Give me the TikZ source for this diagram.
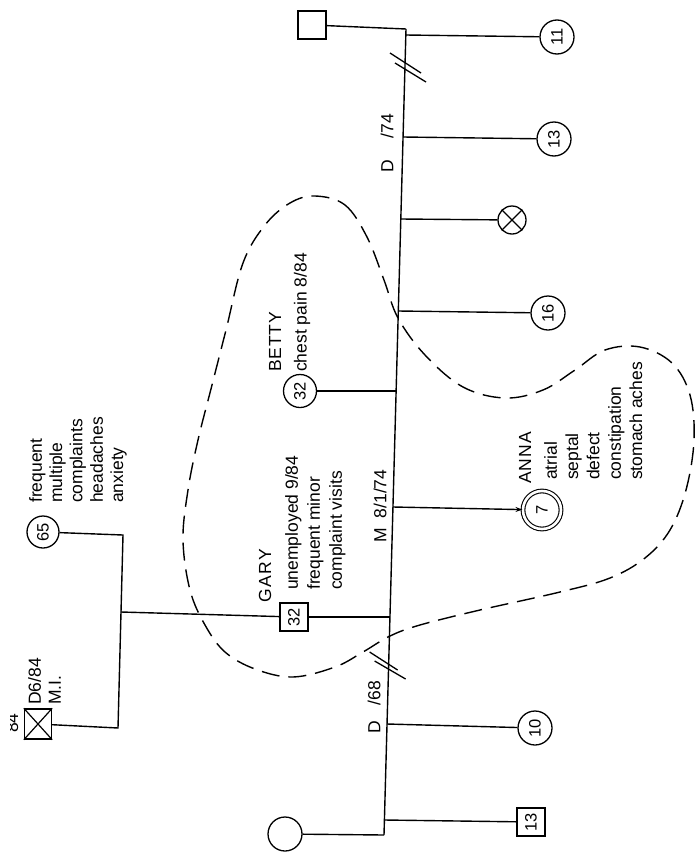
\documentclass[tikz,border=0pt]{standalone}
\usepackage{fontspec}
\setmainfont{Liberation Sans}
\usetikzlibrary{calc,arrows.meta}
\begin{document}
\begin{tikzpicture}[x=1pt,y=-1pt,
  line/.style={line width=1.4pt},
  person/.style={draw, line width=1.3pt, inner sep=0pt, rotate=90, font=\fontsize{16.5}{19}\selectfont},
  fem/.style={person, circle, minimum size=34pt},
  male/.style={person, rectangle, minimum width=28pt, minimum height=28pt},
  lbl/.style={rotate=90, inner sep=0pt, font=\fontsize{17.5}{21}\selectfont},
  slash/.style={line width=1.3pt},
  loop/.style={line width=1.4pt, dash pattern=on 18pt off 9pt}
]
\useasboundingbox[fill=white] (0,0) rectangle (696,854);

% spine coordinates
\coordinate (s0) at (406,29);
\coordinate (s11) at (405.8,35);
\coordinate (d74) at (405,67);
\coordinate (s13) at (403.1,137);
\coordinate (sx) at (400.8,219);
\coordinate (s16) at (398.3,311);
\coordinate (sb) at (396.1,391);
\coordinate (sa) at (393,507);
\coordinate (sg) at (390,617);
\coordinate (d68) at (388.6,665);
\coordinate (s10) at (387,724);
\coordinate (s13b) at (384.4,820);
\coordinate (sB) at (384,835);
% grandparents coordinates
\coordinate (p1) at (123,535);
\coordinate (pm) at (121,612);
\coordinate (p2) at (118,728);

% persons
\node[male] (F1) at (312,25) {};
\node[fem] (c11) at (557,37) {11};
\node[fem] (c13) at (554,139) {13};
\node[fem, minimum size=28pt] (xc) at (512,220) {};
\node[fem] (c16) at (548,313) {16};
\node[fem, minimum size=33pt] (betty) at (300,391) {32};
\node[fem, minimum size=38pt, line width=1.1pt, double, double distance=2.6pt] (anna) at (542,510) {7};
\node[male] (gary) at (294,617) {32};
\node[fem] (c10) at (535,728) {10};
\node[male] (sq13) at (531,822) {13};
\node[fem] (W) at (285,834) {};
\node[fem, minimum size=32pt] (c65) at (43,532) {65};
\node[male, minimum height=27pt, minimum width=30pt] (xsq) at (38,724) {};

% crosses
\draw[line width=1.2pt] (xc.45) -- (xc.225) (xc.135) -- (xc.315);
\draw[line width=1.2pt] (xsq.north west) -- (xsq.south east) (xsq.north east) -- (xsq.south west);

% connectors
\draw[line] (s0) -- (sB);
\draw[line] (F1) -- (s0);
\draw[line] (s11) -- (c11);
\draw[line] (s13) -- (c13);
\draw[line] (sx) -- (xc);
\draw[line] (s16) -- (c16);
\draw[line] (betty) -- (sb);
\draw[line, -{Stealth[length=7pt,width=5pt]}] (sa) -- (anna);
\draw[line] (gary) -- (sg);
\draw[line] (s10) -- (c10);
\draw[line] (s13b) -- (sq13);
\draw[line] (W) -- (sB);
\draw[line] (c65) -- (p1) -- (p2) -- (xsq);
\draw[line] (pm) -- (gary);

% divorce slashes
\draw[slash] ($(d74)+(-15,-14)$) -- ($(d74)+(16,6)$);
\draw[slash] ($(d74)+(-10,-4)$) -- ($(d74)+(21,15)$);
\draw[slash] ($(d68)+(-19,-13)$) -- ($(d68)+(9,5)$);
\draw[slash] ($(d68)+(-14,-4)$) -- ($(d68)+(17,14)$);

% dashed boundary
\draw[loop] plot[smooth cycle, tension=0.6] coordinates {
 (315,196) (345,205) (367,237) (384,280) (398,318) (425,355) (463,387)
 (505,398) (543,390) (575,370) (605,350) (640,347) (672,363) (690,395)
 (694,440) (686,490) (670,530) (645,558) (610,578) (560,592) (480,610)
 (420,625) (390,636) (363,652) (335,667) (293,677) (255,669) (225,652)
 (205,625) (190,590) (183,540) (188,490) (198,440) (212,385) (226,330)
 (243,263) (265,225) (290,203)};

% labels
\node[lbl, align=left, anchor=north west, font=\fontsize{17.5}{20.3}\selectfont] (t65) at (29,503)
  {frequent\\multiple\\complaints\\headaches\\anxiety};
\node[lbl, align=left, anchor=north west, font=\fontsize{17.5}{20}\selectfont] (tdmi) at (28,705)
  {D6/84\\M.I.};
\begin{scope}
\clip (10,690) rectangle (40,745);
\node[lbl, anchor=base west] (t84) at (18,733) {84};
\end{scope}
\node[lbl, anchor=west] (tgary) at (265,603) {G\kern1.5pt A\kern1.5pt R\kern1.5pt Y};
\node[lbl, align=left, anchor=north west, font=\fontsize{17.5}{22}\selectfont] (tgb) at (285,590)
  {unemployed 9/84\\frequent minor\\complaint visits};
\node[lbl, anchor=west] (tm) at (380,543) {M\hspace{10pt}8/1/74};
\node[lbl, anchor=west] (td74) at (387,173) {D\hspace{22pt}/74};
\node[lbl, anchor=west] (td68) at (374,734) {D\hspace{16pt}/68};
\node[lbl, anchor=west] (tbetty) at (275,372) {B\kern0.8pt E\kern0.8pt T\kern0.8pt T\kern0.8pt Y};
\node[lbl, anchor=west] (tchest) at (302,372) {chest pain 8/84};
\node[lbl, anchor=west] (tanna) at (525,484) {A\kern1pt N\kern1pt N\kern1pt A};
\node[lbl, align=left, anchor=north west, font=\fontsize{17.5}{21.3}\selectfont] (tab) at (544,480)
  {atrial\\septal\\defect\\constipation\\stomach aches};
\end{tikzpicture}
\end{document}
